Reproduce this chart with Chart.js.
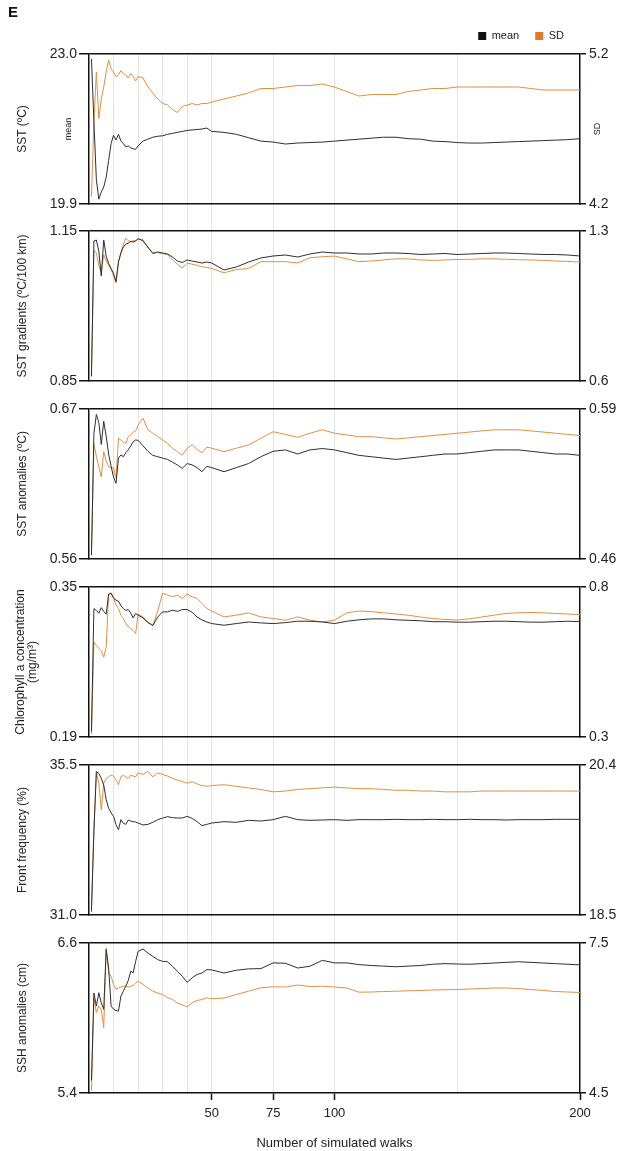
<!DOCTYPE html>
<html><head><meta charset="utf-8">
<script src="https://cdn.jsdelivr.net/npm/chart.js@4.4.1/dist/chart.umd.min.js"></script>
<style>
html,body{margin:0;padding:0;background:#fff;}
#wrap{position:relative;width:619px;height:1151px;overflow:hidden;background:#fff;}
#wrap canvas{position:absolute;left:0;}
</style></head><body><div id="wrap"></div>
<script>
// ---------- data ----------
const walks = [1,2,3,4,5,6,7,8,9,10,11,12,13,14,15,16,17,18,19,20,22,24,26,28,30,32,34,36,38,40,42,44,46,48,50,55,60,65,70,75,80,85,90,95,100,105,110,115,120,125,130,135,140,145,150,155,160,165,170,175,180,185,190,195,200];

const sstMean = [22.9,21.6,20.4,20.0,20.15,20.25,20.45,20.8,21.15,21.32,21.22,21.34,21.2,21.15,21.08,21.1,21.06,21.04,21.03,21.1,21.2,21.24,21.28,21.3,21.31,21.34,21.36,21.38,21.4,21.42,21.43,21.44,21.45,21.47,21.4,21.38,21.34,21.27,21.2,21.18,21.14,21.16,21.17,21.18,21.2,21.22,21.24,21.26,21.28,21.28,21.25,21.24,21.2,21.19,21.17,21.16,21.16,21.17,21.18,21.19,21.2,21.21,21.22,21.23,21.25];
const sstSD = [4.25,4.75,5.08,4.77,4.9,4.98,5.08,5.16,5.1,5.08,5.05,5.06,5.09,5.07,5.06,5.04,5.07,5.05,5.02,5.05,5.04,4.98,4.94,4.9,4.87,4.86,4.83,4.81,4.85,4.86,4.87,4.86,4.87,4.87,4.88,4.9,4.92,4.94,4.97,4.97,4.98,4.99,4.99,5.0,4.98,4.95,4.92,4.93,4.93,4.93,4.95,4.96,4.97,4.97,4.98,4.98,4.98,4.98,4.98,4.98,4.97,4.96,4.96,4.96,4.96];

const gradMean = [0.86,1.13,1.132,1.11,1.06,1.132,1.1,1.085,1.075,1.065,1.049,1.089,1.106,1.118,1.124,1.126,1.129,1.128,1.13,1.135,1.13,1.118,1.105,1.108,1.106,1.104,1.098,1.09,1.087,1.092,1.09,1.088,1.086,1.088,1.086,1.072,1.078,1.088,1.096,1.1,1.102,1.098,1.104,1.108,1.106,1.106,1.104,1.104,1.106,1.106,1.105,1.103,1.104,1.105,1.103,1.104,1.105,1.106,1.106,1.105,1.104,1.103,1.103,1.102,1.1];
const gradSD = [0.62,1.211,1.197,1.14,1.104,1.19,1.16,1.14,1.12,1.09,1.057,1.15,1.2,1.235,1.267,1.255,1.25,1.255,1.255,1.262,1.26,1.22,1.2,1.2,1.194,1.19,1.165,1.145,1.127,1.15,1.145,1.14,1.133,1.13,1.125,1.105,1.12,1.125,1.157,1.157,1.157,1.151,1.175,1.18,1.183,1.17,1.157,1.16,1.165,1.17,1.17,1.165,1.163,1.165,1.167,1.168,1.17,1.17,1.168,1.166,1.165,1.163,1.16,1.158,1.155];

const anomMean = [0.563,0.652,0.666,0.66,0.644,0.661,0.65,0.637,0.628,0.62,0.6155,0.634,0.6363,0.635,0.638,0.64,0.643,0.646,0.6473,0.647,0.643,0.639,0.636,0.635,0.634,0.633,0.631,0.629,0.6265,0.63,0.629,0.627,0.624,0.628,0.627,0.624,0.627,0.63,0.635,0.639,0.64,0.637,0.64,0.641,0.64,0.638,0.636,0.635,0.634,0.633,0.634,0.635,0.636,0.637,0.637,0.638,0.639,0.64,0.64,0.64,0.639,0.638,0.637,0.637,0.636];
const anomSD = [0.463,0.56,0.5487,0.54,0.531,0.553,0.545,0.54,0.539,0.539,0.53,0.5646,0.5631,0.561,0.5603,0.566,0.5675,0.57,0.571,0.576,0.582,0.572,0.569,0.566,0.563,0.56,0.556,0.553,0.55,0.556,0.559,0.555,0.552,0.557,0.556,0.553,0.556,0.5588,0.5646,0.5703,0.568,0.5655,0.569,0.572,0.569,0.5675,0.566,0.566,0.565,0.564,0.565,0.566,0.567,0.568,0.569,0.57,0.571,0.572,0.572,0.572,0.571,0.57,0.569,0.568,0.567];

const chlMean = [0.196,0.327,0.325,0.322,0.328,0.324,0.321,0.3425,0.3432,0.338,0.336,0.335,0.33,0.327,0.325,0.326,0.322,0.317,0.3218,0.32,0.317,0.312,0.309,0.318,0.3235,0.3235,0.3253,0.324,0.326,0.326,0.323,0.318,0.315,0.3127,0.311,0.3092,0.311,0.3127,0.3117,0.311,0.312,0.3135,0.3135,0.3127,0.311,0.3135,0.315,0.316,0.316,0.315,0.3145,0.314,0.313,0.313,0.3125,0.3125,0.313,0.3135,0.3135,0.313,0.3125,0.3125,0.313,0.3135,0.313];
const chlSD = [0.31,0.6164,0.6053,0.595,0.588,0.566,0.5997,0.773,0.781,0.765,0.74,0.7285,0.706,0.695,0.678,0.668,0.6614,0.655,0.6446,0.71,0.7,0.6835,0.6725,0.72,0.7789,0.7732,0.7674,0.7732,0.7621,0.7765,0.7674,0.7621,0.745,0.7285,0.72,0.7003,0.706,0.7138,0.7003,0.695,0.6893,0.7003,0.6893,0.6835,0.6893,0.7138,0.72,0.718,0.714,0.71,0.706,0.7,0.695,0.692,0.69,0.694,0.7,0.706,0.712,0.714,0.715,0.714,0.712,0.71,0.708];

const frontMean = [31.1,33.5,35.3,35.25,35.1,34.9,34.46,34.2,34.06,33.96,33.71,33.56,33.86,33.75,33.72,33.85,33.82,33.8,33.79,33.76,33.7,33.72,33.78,33.86,33.91,33.95,33.92,33.91,33.91,33.96,33.9,33.8,33.68,33.72,33.76,33.8,33.78,33.84,33.82,33.86,33.96,33.86,33.84,33.85,33.86,33.84,33.86,33.86,33.86,33.87,33.86,33.86,33.87,33.86,33.86,33.87,33.86,33.86,33.85,33.86,33.86,33.86,33.87,33.87,33.87];
const frontSD = [18.6,19.6,20.316,20.17,19.83,20.17,20.23,20.25,20.27,20.26,20.21,20.15,20.25,20.27,20.25,20.23,20.27,20.26,20.25,20.3,20.28,20.32,20.25,20.3,20.28,20.26,20.23,20.21,20.19,20.17,20.19,20.16,20.14,20.13,20.14,20.15,20.13,20.11,20.09,20.06,20.07,20.09,20.1,20.11,20.12,20.11,20.1,20.1,20.09,20.08,20.08,20.07,20.07,20.06,20.06,20.06,20.07,20.07,20.07,20.07,20.07,20.07,20.07,20.07,20.07];

const sshMean = [5.5,6.2,6.095,6.202,6.122,6.069,6.547,6.401,6.095,6.07,6.06,6.055,6.175,6.215,6.254,6.3,6.374,6.361,6.453,6.533,6.552,6.52,6.493,6.467,6.453,6.45,6.414,6.374,6.334,6.286,6.321,6.348,6.36,6.387,6.385,6.36,6.382,6.393,6.395,6.441,6.438,6.4,6.414,6.461,6.441,6.441,6.427,6.42,6.415,6.41,6.415,6.42,6.43,6.435,6.432,6.43,6.435,6.44,6.445,6.45,6.445,6.44,6.435,6.43,6.425];
const sshSD = [4.55,6.4,6.106,6.238,6.172,5.808,7.4,6.9,6.835,6.67,6.57,6.604,6.62,6.636,6.64,6.62,6.636,6.65,6.7,6.735,6.67,6.6,6.536,6.5,6.47,6.405,6.37,6.3,6.26,6.226,6.305,6.35,6.37,6.405,6.385,6.4,6.47,6.536,6.604,6.624,6.62,6.66,6.63,6.636,6.62,6.6,6.516,6.52,6.53,6.535,6.545,6.55,6.56,6.565,6.57,6.58,6.59,6.6,6.6,6.59,6.57,6.55,6.53,6.52,6.51];

const yTitles = ['SST (ºC)', 'SST gradients (ºC/100 km)', 'SST anomalies (ºC)', ['Chlorophyll a concentration', '(mg/m³)'], 'Front frequency (%)', 'SSH anomalies (cm)'];
const meanTicks = [[19.9, 23.0], [0.85, 1.15], [0.56, 0.67], [0.19, 0.35], [31.0, 35.5], [5.4, 6.6]];
const sdTicks = [[4.2, 5.2], [0.6, 1.3], [0.46, 0.59], [0.3, 0.8], [18.5, 20.4], [4.5, 7.5]];
const meanDecimals = [1, 2, 2, 2, 1, 1];
const sdDecimals = [1, 1, 2, 1, 1, 1];
const xGridValues = [10, 20, 30, 40, 50, 75, 100, 150];
const xLabelValues = [50, 75, 100, 200];
const xTitle = 'Number of simulated walks';
const seriesLabels = ['mean', 'SD'];

const meanSeries = [sstMean, gradMean, anomMean, chlMean, frontMean, sshMean];
const sdSeries = [sstSD, gradSD, anomSD, chlSD, frontSD, sshSD];

// ---------- layout ----------
const W = 619, H = 1151;
const FONT = "'Liberation Sans', Arial, Helvetica, sans-serif";
const panelTops = [54, 231, 409, 587, 765, 943];
const panelH = 150;
const AREA_LEFT = 89, RIGHT_W = 39;
const BLACK = '#111111', LINE_BLACK = '#2e2e2e', ORANGE_LINE = '#e28f43', ORANGE_KEY = '#e07c22', GRID = '#e3e3e3', TEXT = '#222222';
const CLEAR = 'rgba(0,0,0,0)';

const sideLabels = {
  id: 'sideLabels',
  afterDraw(chart) {
    if (!chart.options.plugins.sideLabels || !chart.options.plugins.sideLabels.show) return;
    const a = chart.chartArea, ctx = chart.ctx;
    const cy = (a.top + a.bottom) / 2;
    ctx.save();
    ctx.font = '9px ' + FONT;
    ctx.fillStyle = TEXT;
    ctx.textAlign = 'center';
    ctx.textBaseline = 'middle';
    [[a.left - 20, seriesLabels[0]], [a.right + 18, seriesLabels[1]]].forEach(([x, t]) => {
      ctx.save(); ctx.translate(x, cy); ctx.rotate(-Math.PI / 2); ctx.fillText(t, 0, 0); ctx.restore();
    });
    ctx.restore();
  }
};

const wrap = document.getElementById('wrap');

meanSeries.forEach((_, i) => {
  const isFirst = i === 0, isLast = i === meanSeries.length - 1;
  const T = panelTops[i];
  const padTop = isFirst ? 11.5 : 12;
  const padLeft = isFirst ? 8 : 0;
  const canvasTop = isFirst ? 0 : T - 12;
  const canvasBottom = isLast ? H : panelTops[i + 1];
  const gap = isLast ? 0 : panelTops[i + 1] - (T + panelH);
  const xHeight = isLast ? (H - (T + panelH)) : gap;

  const c = document.createElement('canvas');
  c.width = W; c.height = canvasBottom - canvasTop;
  c.style.top = canvasTop + 'px';
  c.style.width = W + 'px'; c.style.height = (canvasBottom - canvasTop) + 'px';
  wrap.appendChild(c);

  const mt = meanTicks[i], st = sdTicks[i];
  const isMulti = Array.isArray(yTitles[i]);
  const titleCenter = isMulti ? 21 : 23;
  const titlePad = titleCenter - padLeft - 6;

  const scales = {
    x: {
      type: 'linear', min: 0, max: 200,
      afterBuildTicks: s => { s.ticks = (isLast ? xGridValues.concat([200]) : xGridValues).map(v => ({ value: v })); },
      grid: {
        display: true, drawOnChartArea: true, drawTicks: true,
        color: ctx => (ctx.tick && ctx.tick.value >= 200) ? CLEAR : GRID,
        lineWidth: 1,
        tickLength: isLast ? 7 : gap,
        tickColor: ctx => isLast ? ((ctx.tick && xLabelValues.includes(ctx.tick.value)) ? BLACK : CLEAR) : GRID,
        tickWidth: isLast ? 1.5 : 1
      },
      border: { display: true, color: BLACK, width: 1.5 },
      ticks: {
        display: isLast, autoSkip: false, maxRotation: 0, padding: 6,
        font: { family: FONT, size: 13 }, color: TEXT,
        callback: v => xLabelValues.includes(v) ? String(v) : ''
      },
      title: { display: isLast, text: xTitle, font: { family: FONT, size: 13 }, color: TEXT, padding: { top: 0, bottom: 0 } },
      afterFit: s => { s.height = xHeight; }
    },
    y: {
      position: 'left', min: mt[0], max: mt[1],
      afterBuildTicks: s => { s.ticks = mt.map(v => ({ value: v })); },
      ticks: { autoSkip: false, padding: 2, font: { family: FONT, size: 14 }, color: TEXT, callback: v => Number(v).toFixed(meanDecimals[i]) },
      grid: {
        drawOnChartArea: true, drawTicks: true,
        color: ctx => (ctx.tick && ctx.tick.value === mt[1]) ? BLACK : CLEAR,
        lineWidth: 1.5, tickLength: 10, tickColor: BLACK, tickWidth: 1.5
      },
      border: { display: true, color: BLACK, width: 1.5 },
      title: { display: true, text: yTitles[i], font: { family: FONT, size: 12, lineHeight: 1 }, color: TEXT, padding: { top: titlePad, bottom: 0 } },
      afterFit: s => { s.width = AREA_LEFT - padLeft; }
    },
    y2: {
      position: 'right', min: st[0], max: st[1],
      afterBuildTicks: s => { s.ticks = st.map(v => ({ value: v })); },
      ticks: { autoSkip: false, padding: 3, font: { family: FONT, size: 14 }, color: TEXT, callback: v => Number(v).toFixed(sdDecimals[i]) },
      grid: { drawOnChartArea: false, drawTicks: true, color: BLACK, lineWidth: 1.5, tickLength: 6, tickColor: BLACK, tickWidth: 1.5 },
      border: { display: true, color: BLACK, width: 1.5 },
      afterFit: s => { s.width = RIGHT_W; }
    }
  };
  if (isFirst) {
    scales.xt = {
      type: 'linear', position: 'top', display: true, min: 0, max: 200,
      grid: { display: false, drawTicks: false }, ticks: { display: false }, border: { display: false },
      afterFit: s => { s.height = 2.5; }
    };
  }

  new Chart(c, {
    type: 'line',
    data: {
      datasets: [
        { label: seriesLabels[0], data: walks.map((w, k) => ({ x: w, y: meanSeries[i][k] })), yAxisID: 'y',
          borderColor: LINE_BLACK, backgroundColor: BLACK, borderWidth: 1, pointRadius: 0, tension: 0 },
        { label: seriesLabels[1], data: walks.map((w, k) => ({ x: w, y: sdSeries[i][k] })), yAxisID: 'y2',
          borderColor: ORANGE_LINE, backgroundColor: ORANGE_KEY, borderWidth: 1, pointRadius: 0, tension: 0 }
      ]
    },
    options: {
      responsive: false, animation: false, devicePixelRatio: 1, events: [],
      layout: { padding: { top: padTop, left: padLeft, right: 0, bottom: 0 } },
      scales,
      plugins: {
        sideLabels: { show: isFirst },
        tooltip: { enabled: false },
        title: { display: isFirst, text: 'E', align: 'start', color: BLACK, padding: 0,
                 font: { family: FONT, size: 15, weight: 'bold', lineHeight: 0.2 } },
        legend: {
          display: isFirst, position: 'top', align: 'end', fullSize: false,
          labels: { boxWidth: 8, boxHeight: 8, padding: 16, color: TEXT, font: { family: FONT, size: 11 },
                    generateLabels: chart => chart.data.datasets.map((d, k) => ({
                      text: d.label, fillStyle: d.backgroundColor, strokeStyle: d.backgroundColor, lineWidth: 0,
                      datasetIndex: k, hidden: false, fontColor: TEXT })) }
        }
      }
    },
    plugins: [sideLabels]
  });
});
</script>
</body></html>
